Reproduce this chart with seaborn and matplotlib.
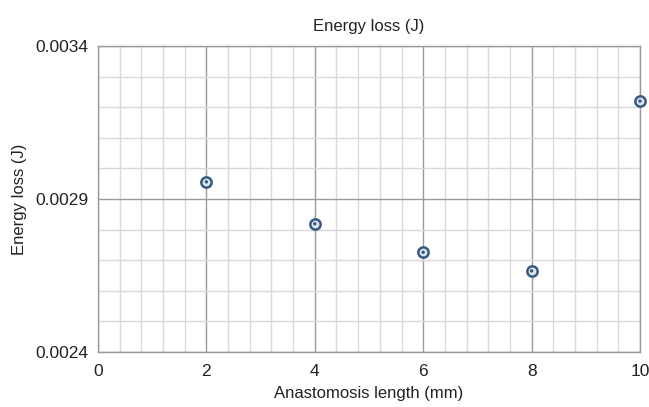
import numpy as np
import pandas as pd
import seaborn as sns
import matplotlib
matplotlib.use("Agg")
import matplotlib.pyplot as plt
from matplotlib.ticker import MultipleLocator, FixedLocator

length_mm = [2, 4, 6, 8, 10]
energy_loss = [0.002956, 0.002819, 0.002726, 0.002665, 0.003220]
y_ticks = [0.0024, 0.0029, 0.0034]
x_ticks = [0, 2, 4, 6, 8, 10]

df = pd.DataFrame({"Anastomosis length (mm)": length_mm, "Energy loss (J)": energy_loss})

sns.set_theme(style="white")
plt.rcParams['font.family'] = ['Liberation Sans', 'DejaVu Sans']

fig = plt.figure(figsize=(6.49, 4.07), dpi=100)
ax = fig.add_axes([98/649, 1-352/407, (640-98)/649, (352-46)/407])

ax.set_xlim(0, 10)
ax.set_ylim(0.0024, 0.0034)
ax.xaxis.set_major_locator(FixedLocator(x_ticks))
ax.xaxis.set_minor_locator(MultipleLocator(0.4))
ax.yaxis.set_major_locator(FixedLocator(y_ticks))
ax.yaxis.set_minor_locator(MultipleLocator(0.0001))
ax.set_yticklabels([f"{v:.4f}" for v in y_ticks])
ax.grid(which="minor", color="#d9d9d9", linewidth=1.0)
ax.grid(which="major", color="#9a9a9a", linewidth=1.0)
ax.set_axisbelow(True)
ax.tick_params(which="both", length=0, labelsize=12.5, colors="#222222")
ax.tick_params(axis="x", pad=9)
ax.tick_params(axis="y", pad=7)
for s in ax.spines.values():
    s.set_color("#9a9a9a")
    s.set_linewidth(1.0)

sns.scatterplot(data=df, x="Anastomosis length (mm)", y="Energy loss (J)", ax=ax,
                s=55, color="#dce6f0", edgecolor="#3b5a80", linewidth=1.8, zorder=3, clip_on=False)
sns.scatterplot(data=df, x="Anastomosis length (mm)", y="Energy loss (J)", ax=ax,
                s=6, color="#3b5a80", edgecolor="none", zorder=4, clip_on=False)

ax.set_xlabel("Anastomosis length (mm)", fontsize=12, color="#222222", labelpad=5)
ax.set_ylabel("Energy loss (J)", fontsize=12, color="#222222", labelpad=6)
ax.set_title("Energy loss (J)", fontsize=12, color="#222222", pad=11)

fig.savefig("out.png", dpi=100)
